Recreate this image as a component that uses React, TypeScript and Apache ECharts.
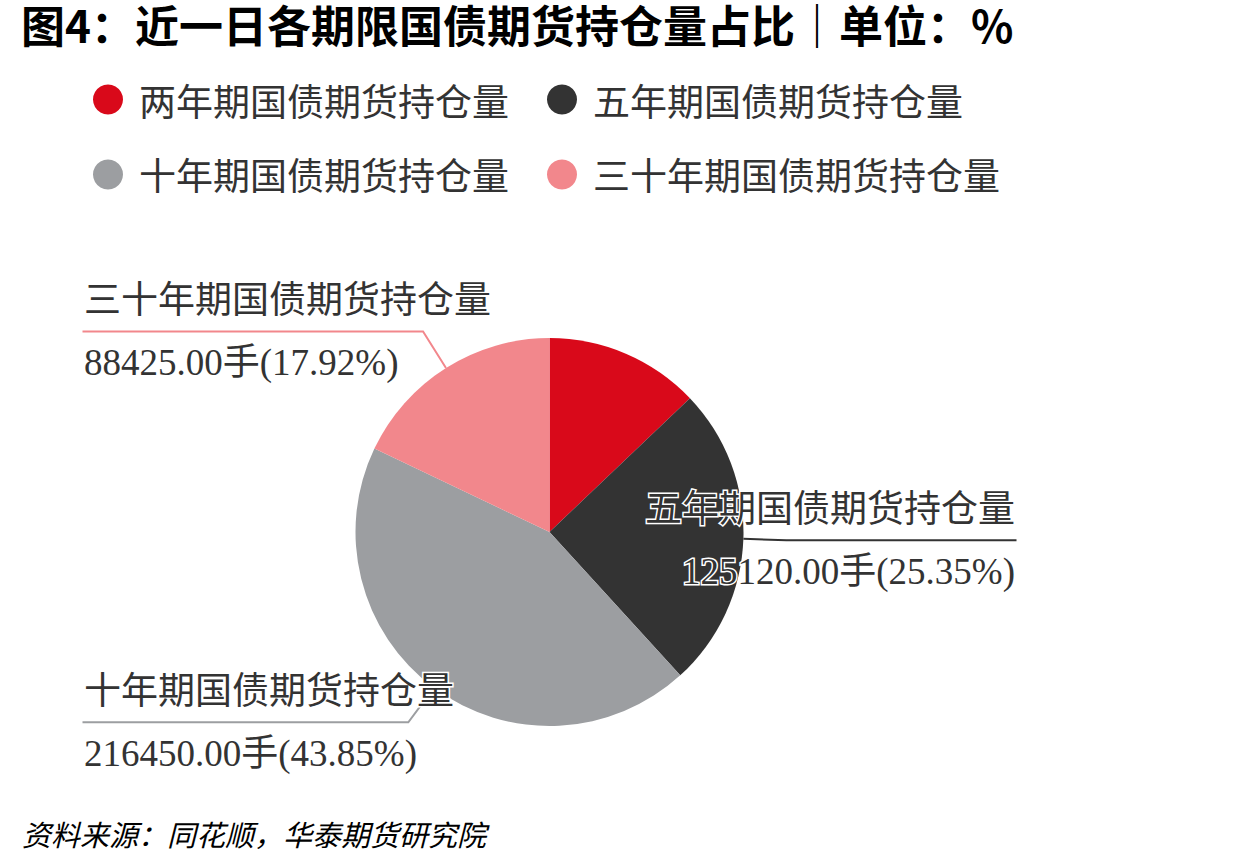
import React, { useEffect, useRef } from 'react';
import * as echarts from 'echarts';

const categories = ['两年期国债期货持仓量', '五年期国债期货持仓量', '十年期国债期货持仓量', '三十年期国债期货持仓量'];
const holdings = [63575, 125120, 216450, 88425];
const colors = ['#d9091a', '#333333', '#9c9ea1', '#f2878c'];
const showLabel = [false, true, true, true];
const titleText = '图4：近一日各期限国债期货持仓量占比｜单位：%';
const sourceText = '资料来源：同花顺，华泰期货研究院';

const W = 1240;
const H = 866;
const PIE_BOX = { left: 84, right: 225, top: 200, bottom: 2 };
const PIE_R = 194;
const LINE_LEN = 43;

export default function App() {
  const ref = useRef<HTMLDivElement>(null);
  useEffect(() => {
    const chart = echarts.init(ref.current!, null, { renderer: 'svg' });
    const cjk = "'Noto Sans CJK SC', sans-serif";
    const serif = "'Liberation Serif', 'Noto Sans CJK SC', serif";
    const cx = PIE_BOX.left + (W - PIE_BOX.left - PIE_BOX.right) / 2;
    const cy = PIE_BOX.top + (H - PIE_BOX.top - PIE_BOX.bottom) / 2;
    chart.setOption({
      animation: false,
      backgroundColor: '#fff',
      color: colors,
      title: [
        {
          text: titleText, left: 21, top: 2, padding: 0,
          textStyle: { fontFamily: cjk, fontSize: 44, fontWeight: 'bold', color: '#000' },
        },
        {
          text: sourceText, left: 22, top: 818, padding: 0,
          textStyle: { fontFamily: cjk, fontSize: 29, fontStyle: 'italic', fontWeight: 'normal', color: '#000' },
        },
      ],
      legend: {
        data: categories,
        left: 93, top: 81, width: 1000, padding: 0,
        itemWidth: 52, itemHeight: 30, itemGap: 38, icon: 'circle',
        textStyle: { fontFamily: cjk, fontSize: 37, color: '#333', lineHeight: 36 },
      },
      series: [
        {
          type: 'pie',
          left: PIE_BOX.left, right: PIE_BOX.right, top: PIE_BOX.top, bottom: PIE_BOX.bottom,
          center: ['50%', '50%'],
          radius: PIE_R,
          startAngle: 90,
          clockwise: true,
          label: {
            alignTo: 'edge',
            edgeDistance: 0,
            width: 420,
            overflow: 'none',
            color: '#333',
            fontFamily: serif,
            fontSize: 37,
            textBorderColor: '#fff',
            textBorderWidth: 3,
            formatter: (p: any) =>
              `{name|${p.name}}\n{value|${Number(p.value).toFixed(2)}手(${Number(p.percent).toFixed(2)}%)}`,
            rich: {
              name: { fontFamily: serif, fontSize: 37, lineHeight: 62, color: '#333', textBorderColor: '#fff', textBorderWidth: 3 },
              value: { fontFamily: serif, fontSize: 37, lineHeight: 62, color: '#333', textBorderColor: '#fff', textBorderWidth: 3 },
            },
          },
          labelLine: { length: LINE_LEN, length2: 0, lineStyle: { width: 2 } },
          labelLayout: (params: any) => {
            const pts = params.labelLinePoints;
            if (!pts) return {};
            const r = params.labelRect;
            const ex = pts[0][0];
            const ey = pts[0][1];
            const dx = ex - cx;
            const dy = ey - cy;
            const len = Math.hypot(dx, dy) || 1;
            const kx = ex + (dx / len) * LINE_LEN;
            const ky = r.y + r.height / 2;
            const isLeft = dx < 0;
            return {
              labelLinePoints: [
                [ex, ey],
                [kx, ky],
                [isLeft ? r.x : r.x + r.width, ky],
              ],
            };
          },
          data: categories.map((name, i) => ({
            name,
            value: holdings[i],
            label: { show: showLabel[i] },
            labelLine: { show: showLabel[i] },
          })),
        },
      ],
    });
    return () => chart.dispose();
  }, []);
  return <div ref={ref} style={{ position: 'fixed', left: 0, top: 0, width: W, height: H }} />;
}
